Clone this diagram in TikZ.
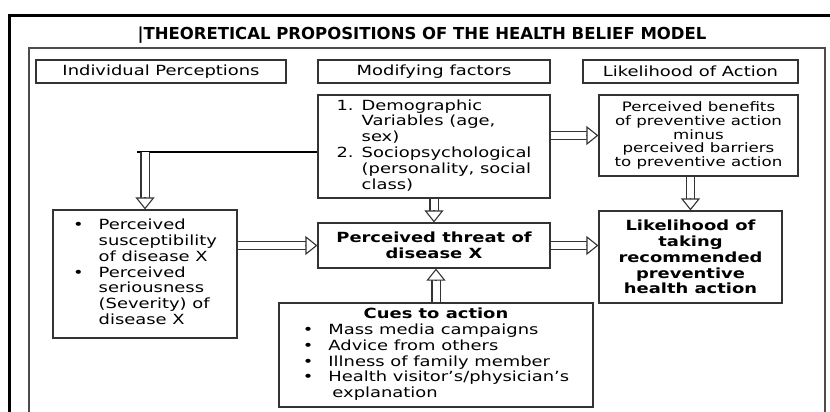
\documentclass[tikz,border=0pt]{standalone}
\usepackage{fontspec}
\setmainfont{DejaVu Sans}[FakeStretch=1.28]
\newfontfamily\titlefont{DejaVu Sans}
\usetikzlibrary{arrows.meta,calc}
\newcommand{\bodysize}{\fontsize{14}{15.8}\selectfont}
\tikzset{
  box/.style={draw=black!80, line width=1.2pt, inner sep=0pt, font=\bodysize},
  hdr/.style={box, minimum height=23pt},
  hollowshaft/.style={draw=black!80, line width=1.1pt, double=white, double distance=7pt, shorten >=10pt},
  hollowhead/.style={draw=black!80, line width=1.1pt, -{Triangle[open, fill=white, length=12pt, width=19pt]}},
}
\newcommand{\hollowarrow}[2]{%
  \draw[hollowshaft] (#1) -- (#2);
  \draw[hollowhead] ($(#2)!12pt!(#1)$) -- (#2);}

\begin{document}
\begin{tikzpicture}[x=1pt, y=-1pt]
\useasboundingbox (0,0) rectangle (830,412);
\clip (0,0) rectangle (830,412);
\fill[white] (0,0) rectangle (830,412);
% frames
\draw[line width=3pt] (9.5,15.5) rectangle (845,430);
\draw[black!70, line width=1.3pt] (29,48) rectangle (825,430);
\node (title) at (422,35) {\titlefont\bfseries\fontsize{16.5}{18}\selectfont |THEORETICAL PROPOSITIONS OF THE HEALTH BELIEF MODEL};

% column headers
\node[hdr, minimum width=250pt] (indhdr) at (161,71.5) {Individual Perceptions};
\node[hdr, minimum width=232pt] (modhdr) at (434,71.5) {Modifying factors};
\node[hdr, minimum width=215pt] (acthdr) at (690.5,71.5) {Likelihood of Action};

% boxes
\node[box, minimum width=232pt, minimum height=103pt] (mod) at (434,146.5)
  {\begin{tabular}{@{}l@{\hspace{8pt}}l@{}}
   1.&Demographic\\ &Variables (age,\\ &sex)\\
   2.&Sociopsychological\\ &(personality, social\\ &class)
   \end{tabular}};
\node[box, minimum width=199pt, minimum height=81pt, align=center,
  font=\fontsize{13}{13.8}\selectfont] (ben) at (698.5,135.5)
  {Perceived benefits\\of preventive action\\minus\\perceived barriers\\to preventive action};
\node[box, minimum width=184pt, minimum height=128pt] (ind) at (145,274)
  {\begin{tabular}{@{}l@{\hspace{15pt}}l@{}}
   \textbullet&Perceived\\ &susceptibility\\ &of disease X\\
   \textbullet&Perceived\\ &seriousness\\ &(Severity) of\\ &disease X
   \end{tabular}};
\node[box, minimum width=232pt, minimum height=45pt, align=center,
  font=\bodysize\bfseries] (threat) at (434,245.5) {Perceived threat of\\disease X};
\node[box, minimum width=183pt, minimum height=92pt, align=center,
  font=\bodysize\bfseries] (like) at (690.5,257)
  {Likelihood of\\taking\\recommended\\preventive\\health action};
\node[box, minimum width=314pt, minimum height=104pt] (cues) at (436,355)
  {\begin{tabular}{@{}l@{\hspace{15pt}}l@{}}
   \multicolumn{2}{c}{\bfseries Cues to action}\\
   \textbullet&Mass media campaigns\\
   \textbullet&Advice from others\\
   \textbullet&Illness of family member\\
   \textbullet&Health visitor's/physician's\\
   &\hspace{4pt}explanation
   \end{tabular}};

% connectors
\coordinate (branch) at (ind.north |- 0,152);
\coordinate (c1) at (ind.east |- threat.west);
\coordinate (c2) at (like.north |- ben.south);
\coordinate (c3) at (mod.east |- ben.west);
\coordinate (c4) at (like.west |- threat.east);
\coordinate (c5) at (cues.north |- threat.south);
\draw[line width=1.8pt] ([xshift=-8pt]branch) -- (mod.west |- branch);
\hollowarrow{branch}{ind.north}
\hollowarrow{mod.south}{threat.north}
\hollowarrow{c3}{ben.west}
\hollowarrow{c2}{like.north}
\hollowarrow{c1}{threat.west}
\hollowarrow{threat.east}{c4}
\hollowarrow{cues.north}{c5}
\end{tikzpicture}
\end{document}
